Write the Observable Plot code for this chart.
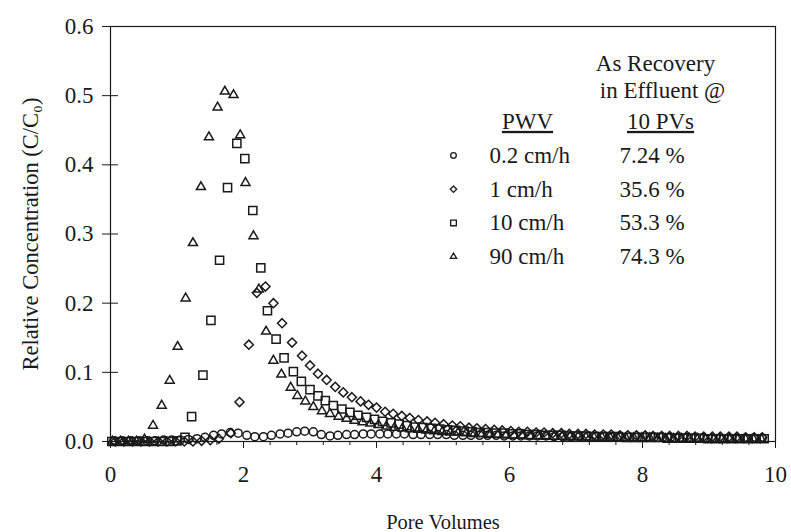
<!DOCTYPE html>
<html>
<head>
<meta charset="utf-8">
<script src="https://cdn.jsdelivr.net/npm/d3@7"></script>
<script src="https://cdn.jsdelivr.net/npm/@observablehq/plot@0.6"></script>
<style>
  body { margin: 0; background: #fff; }
  #chart { width: 791px; height: 532px; }
</style>
</head>
<body>
<div id="chart"></div>
<script>
// ---- data ----
const xTicks = [0, 2, 4, 6, 8, 10];
const xMinorTicks = [0.4,0.8,1.2,1.6,2.4,2.8,3.2,3.6,4.4,4.8,5.2,5.6,6.4,6.8,7.2,7.6,8.4,8.8,9.2,9.6];
const yTicks = [0, 0.1, 0.2, 0.3, 0.4, 0.5, 0.6];

const seriesNames = ["0.2 cm/h", "1 cm/h", "10 cm/h", "90 cm/h"];
const recovery = ["7.24 %", "35.6 %", "53.3 %", "74.3 %"];
const symbols = ["circle", "diamond2", "square2", "triangle2"];

// 0.2 cm/h (circles)
const circX = [0.05,0.17,0.3,0.42,0.55,0.67,0.8,0.92,1.05,1.17,1.3,1.42,1.55,1.67,1.8,1.92,2.05,2.17,2.3,2.42,2.55,2.67,2.8,2.92,3.05,3.17,3.3,3.42,3.55,3.67,3.8,3.92,4.05,4.17,4.3,4.42,4.55,4.67,4.8,4.92,5.05,5.17,5.3,5.42,5.55,5.67,5.8,5.92,6.05,6.17,6.3,6.42,6.55,6.67,6.8,6.92,7.05,7.17,7.3,7.42,7.55,7.67,7.8,7.92,8.05,8.17,8.3,8.42,8.55,8.67,8.8,8.92,9.05,9.17,9.3,9.42,9.55,9.67,9.8];
const circY = [0.001,0.001,0.001,0.001,0.001,0.001,0.002,0.002,0.002,0.003,0.004,0.006,0.009,0.011,0.013,0.012,0.009,0.007,0.007,0.009,0.011,0.012,0.014,0.015,0.014,0.010,0.008,0.009,0.010,0.010,0.011,0.011,0.011,0.011,0.011,0.011,0.010,0.010,0.010,0.010,0.010,0.009,0.009,0.009,0.009,0.009,0.009,0.008,0.008,0.008,0.008,0.008,0.008,0.007,0.007,0.007,0.007,0.007,0.007,0.007,0.006,0.006,0.006,0.006,0.006,0.006,0.006,0.006,0.005,0.005,0.005,0.005,0.005,0.005,0.005,0.005,0.005,0.005,0.005];

// 1 cm/h (diamonds)
const diamX = [0.07,0.2,0.33,0.46,0.59,0.72,0.85,0.98,1.11,1.24,1.37,1.5,1.63,1.81,1.94,2.08,2.2,2.33,2.45,2.58,2.73,2.88,3.0,3.12,3.25,3.38,3.5,3.63,3.76,3.88,4.0,4.13,4.25,4.38,4.5,4.63,4.76,4.88,5.01,5.14,5.26,5.39,5.51,5.64,5.77,5.89,6.02,6.14,6.27,6.4,6.52,6.65,6.78,6.9,7.03,7.15,7.28,7.41,7.53,7.66,7.78,7.91,8.04,8.16,8.29,8.41,8.54,8.67,8.79,8.92,9.05,9.17,9.3,9.42,9.55,9.68,9.8];
const diamY = [0,0,0,0,0,0,0,0,0,0,0.001,0.002,0.004,0.012,0.057,0.14,0.215,0.224,0.2,0.171,0.143,0.124,0.11,0.098,0.089,0.079,0.071,0.064,0.058,0.053,0.049,0.043,0.040,0.037,0.034,0.031,0.029,0.027,0.025,0.023,0.022,0.020,0.019,0.018,0.017,0.016,0.015,0.014,0.014,0.013,0.013,0.012,0.012,0.011,0.011,0.011,0.010,0.010,0.010,0.009,0.009,0.009,0.009,0.008,0.008,0.008,0.008,0.008,0.007,0.007,0.007,0.007,0.007,0.007,0.006,0.006,0.006];

// 10 cm/h (squares)
const sqX = [0.02,0.14,0.27,0.39,0.52,0.64,0.77,0.89,1.0,1.12,1.22,1.39,1.51,1.64,1.76,1.9,2.02,2.14,2.26,2.36,2.49,2.61,2.75,2.87,3.0,3.12,3.23,3.35,3.48,3.6,3.72,3.85,3.97,4.09,4.22,4.34,4.46,4.58,4.7,4.83,4.95,5.07,5.19,5.32,5.44,5.56,5.68,5.8,5.93,6.05,6.17,6.29,6.41,6.54,6.66,6.78,6.9,7.02,7.15,7.27,7.39,7.51,7.63,7.76,7.88,8.0,8.12,8.24,8.37,8.49,8.61,8.73,8.85,8.98,9.1,9.22,9.34,9.46,9.59,9.71,9.83];
const sqY = [0,0,0,0,0,0,0,0,0.001,0.006,0.036,0.096,0.175,0.262,0.367,0.431,0.409,0.334,0.251,0.189,0.148,0.121,0.101,0.087,0.075,0.066,0.059,0.052,0.047,0.042,0.038,0.035,0.032,0.029,0.027,0.025,0.023,0.021,0.020,0.019,0.018,0.017,0.016,0.015,0.014,0.013,0.013,0.012,0.012,0.011,0.011,0.010,0.010,0.009,0.009,0.009,0.008,0.008,0.008,0.007,0.007,0.007,0.007,0.006,0.006,0.006,0.006,0.006,0.005,0.005,0.005,0.005,0.005,0.004,0.004,0.004,0.004,0.004,0.004,0.004,0.004];

// 90 cm/h (triangles)
const triX = [0.03,0.15,0.27,0.39,0.51,0.64,0.77,0.89,1.01,1.13,1.24,1.36,1.48,1.61,1.72,1.85,1.95,2.03,2.15,2.23,2.34,2.45,2.57,2.71,2.81,2.93,3.05,3.18,3.3,3.43,3.55,3.67,3.79,3.91,4.03,4.15,4.27,4.39,4.51,4.63,4.75,4.87,4.99,5.11,5.23,5.35,5.47,5.59,5.71,5.83,5.95,6.07,6.19,6.31,6.43,6.55,6.67,6.79,6.91,7.03,7.15,7.27,7.39,7.51,7.63,7.75,7.87,7.99,8.11,8.23,8.35,8.47,8.59,8.71,8.83,8.95,9.07,9.19,9.31,9.43,9.55,9.67,9.79];
const triY = [0,0,0,0,0.003,0.023,0.052,0.088,0.137,0.207,0.287,0.368,0.440,0.483,0.506,0.501,0.443,0.374,0.297,0.220,0.159,0.117,0.097,0.078,0.066,0.058,0.050,0.044,0.040,0.036,0.033,0.030,0.028,0.026,0.024,0.022,0.020,0.019,0.018,0.017,0.016,0.015,0.014,0.013,0.013,0.012,0.011,0.011,0.010,0.010,0.009,0.009,0.009,0.008,0.008,0.008,0.007,0.007,0.007,0.007,0.006,0.006,0.006,0.006,0.005,0.005,0.005,0.005,0.005,0.004,0.004,0.004,0.004,0.004,0.004,0.003,0.003,0.003,0.003,0.003,0.003,0.003,0.003];

// ---- build table ----
const seriesXY = [[circX, circY], [diamX, diamY], [sqX, sqY], [triX, triY]];
const points = seriesXY.flatMap(([xs, ys], i) =>
  xs.map((x, j) => ({x, y: ys[j], series: seriesNames[i], symbol: symbols[i]})));

// ---- layout / style constants ----
const W = 791, H = 532;
const mL = 110, mR = 16, mT = 26, mB = 91;
const font = "Liberation Serif, Times New Roman, serif";
const tickFS = 23, legFS = 23, ink = "#1a1a1a";
const markerR = {"circle": 4, "diamond2": 4.1, "square2": 5.2, "triangle2": 4.3};

const legendMarks = [];
const rowY0 = 129, rowStep = 33.7;
seriesNames.forEach((name, i) => {
  legendMarks.push(Plot.dot([0], {frameAnchor: "top-left", dx: 343, dy: rowY0 + i * rowStep, symbol: symbols[i], r: markerR[symbols[i]] * 0.7, stroke: ink, strokeWidth: 1.3, fill: "none"}));
  legendMarks.push(Plot.text([name], {text: d => d, frameAnchor: "top-left", dx: 379, dy: rowY0 + i * rowStep, textAnchor: "start", lineAnchor: "middle", fontSize: legFS, fill: ink}));
  legendMarks.push(Plot.text([recovery[i]], {text: d => d, frameAnchor: "top-left", dx: 509, dy: rowY0 + i * rowStep, textAnchor: "start", lineAnchor: "middle", fontSize: legFS, fill: ink}));
});
const header = (t, dx, dy) => Plot.text([t], {text: d => d, frameAnchor: "top-left", dx, dy, textAnchor: "middle", lineAnchor: "middle", fontSize: legFS, fill: ink});
legendMarks.push(header("As Recovery", 545, 37));
legendMarks.push(header("in Effluent @", 552, 64));
legendMarks.push(header("PWV", 417, 95));
legendMarks.push(header("10 PVs", 550, 95));

const chart = Plot.plot({
  width: W, height: H,
  marginLeft: mL, marginRight: mR, marginTop: mT, marginBottom: mB,
  style: {fontFamily: font, fontSize: tickFS + "px", background: "#fff", color: ink},
  x: {domain: [0, 10], label: null},
  y: {domain: [0, 0.6], label: null},
  r: {type: "identity"},
  marks: [
    Plot.frame({stroke: ink, strokeWidth: 1.2}),
    Plot.axisX({ticks: xMinorTicks, tickSize: 4, tickFormat: () => "", label: null, stroke: ink}),
    Plot.axisX({ticks: xTicks, tickSize: 7, tickPadding: 17, fontSize: tickFS, label: null, stroke: ink, fill: ink}),
    Plot.axisY({ticks: yTicks, tickSize: 8, tickPadding: 9, tickFormat: d3.format(".1f"), fontSize: tickFS, label: null, stroke: ink, fill: ink}),
    Plot.axisY({ticks: yTicks, tickSize: 8, dx: 8, tickFormat: () => "", label: null, stroke: ink}),
    Plot.text(["Pore Volumes"], {text: d => d, frameAnchor: "bottom", dy: 81, textAnchor: "middle", lineAnchor: "middle", fontSize: 20.5, fill: ink}),
    Plot.text(["Relative Concentration (C/C\u2080)"], {text: d => d, frameAnchor: "left", dx: -80, rotate: -90, textAnchor: "middle", lineAnchor: "middle", fontSize: 22.5, fill: ink}),
    Plot.dot(points, {x: "x", y: "y", symbol: "symbol", r: d => markerR[d.symbol], stroke: ink, strokeWidth: 1.5, fill: "none"}),
    ...legendMarks
  ]
});

d3.select(chart).selectAll("text").each(function() {
  const t = this.textContent;
  if (t === "PWV" || t === "10 PVs") this.setAttribute("text-decoration", "underline");
});

document.getElementById("chart").appendChild(chart);
</script>
</body>
</html>
